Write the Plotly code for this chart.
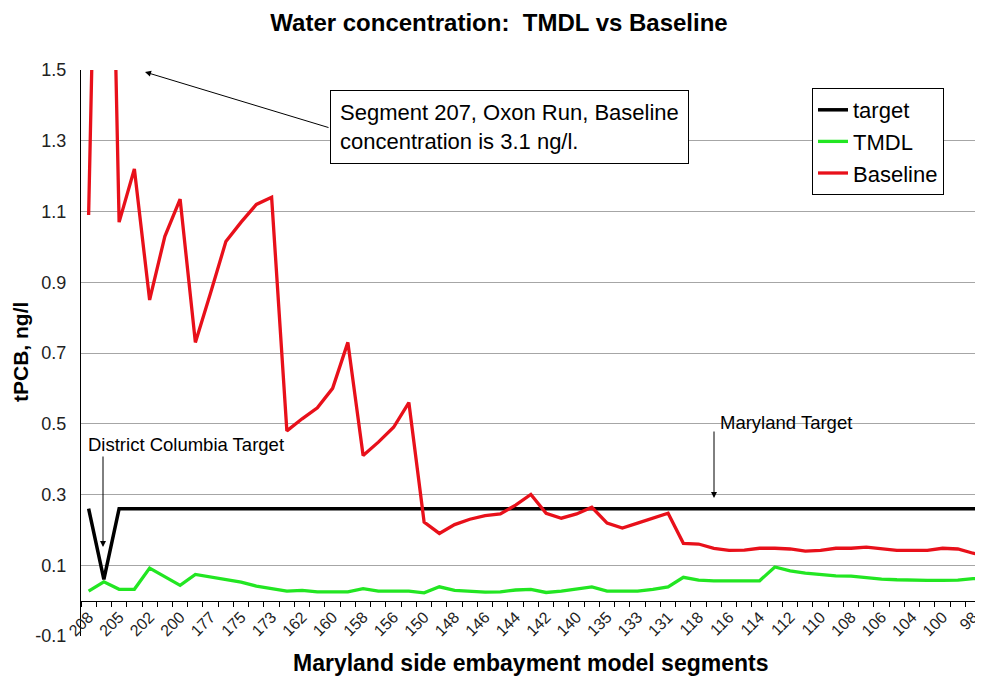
import plotly.graph_objects as go

# segment names (only every other one is labelled on the axis)
segments = ['208', '207', '205', '204', '202', '201', '200', '178', '177', '176',
            '175', '174', '173', '163', '162', '161', '160', '159', '158', '157',
            '156', '151', '150', '149', '148', '147', '146', '145', '144', '143',
            '142', '141', '140', '136', '135', '134', '133', '132', '131', '119',
            '118', '117', '116', '115', '114', '113', '112', '111', '110', '109',
            '108', '107', '106', '105', '104', '102', '100', '99', '98', '97']

target = [0.26, 0.06] + [0.26] * 58

tmdl = [0.027, 0.053, 0.032, 0.032, 0.092, 0.067, 0.043, 0.074, 0.067, 0.060,
        0.052, 0.041, 0.034, 0.027, 0.029, 0.025, 0.025, 0.025, 0.034, 0.027,
        0.027, 0.027, 0.022, 0.039, 0.029, 0.027, 0.024, 0.025, 0.030, 0.032,
        0.023, 0.027, 0.032, 0.039, 0.027, 0.027, 0.027, 0.032, 0.039, 0.066,
        0.058, 0.056, 0.056, 0.056, 0.056, 0.095, 0.084, 0.078, 0.074, 0.070,
        0.069, 0.064, 0.061, 0.059, 0.057, 0.057, 0.057, 0.058, 0.062, 0.065]

baseline = [1.09, 3.1, 1.07, 1.22, 0.85, 1.03, 1.135, 0.73, 0.87, 1.015,
            1.07, 1.12, 1.14, 0.48, 0.514, 0.545, 0.60, 0.73, 0.41, 0.448,
            0.49, 0.56, 0.222, 0.19, 0.215, 0.23, 0.24, 0.245, 0.27, 0.30,
            0.247, 0.233, 0.245, 0.264, 0.219, 0.205, 0.219, 0.233, 0.247, 0.162,
            0.160, 0.148, 0.142, 0.143, 0.148, 0.148, 0.146, 0.140, 0.142, 0.148,
            0.148, 0.151, 0.146, 0.142, 0.142, 0.142, 0.148, 0.146, 0.134, 0.125]

y_ticks = [-0.1, 0.1, 0.3, 0.5, 0.7, 0.9, 1.1, 1.3, 1.5]
y_ticktext = ['-0.1', '0.1', '0.3', '0.5', '0.7', '0.9', '1.1', '1.3', '1.5']

x_ticktext = [s if i % 2 == 0 else '' for i, s in enumerate(segments)]

# the page body adds an 8px margin, so the figure is made 8px smaller
OFF = 8
W, H = 983 - OFF, 679 - OFF
L, R, T, B = 81 - OFF, 0, 70 - OFF, 679 - 636
font = 'Arial, Liberation Sans, sans-serif'


def px(x, y):
  # page pixel (as in the screenshot) -> paper fraction
  x, y = x - OFF, y - OFF
  return (x - L) / (W - L - R), (H - B - y) / (H - T - B)


fig = go.Figure()
fig.add_trace(go.Scatter(x=segments, y=target, name='target', mode='lines',
                         line=dict(color='black', width=3.5)))
fig.add_trace(go.Scatter(x=segments, y=tmdl, name='TMDL', mode='lines',
                         line=dict(color='#22e622', width=3.3)))
fig.add_trace(go.Scatter(x=segments, y=baseline, name='Baseline', mode='lines',
                         line=dict(color='#e8101a', width=3.3)))

annotations = []
# axis titles
ax_x, ax_y = px(531, 663)
annotations.append(dict(text='<b>Maryland side embayment model segments</b>',
                        xref='paper', yref='paper', x=ax_x, y=ax_y,
                        xanchor='center', yanchor='middle',
                        showarrow=False, font=dict(size=23, color='black')))
ay_x, ay_y = px(20, 352)
annotations.append(dict(text='<b>tPCB, ng/l</b>', textangle=-90,
                        xref='paper', yref='paper', x=ay_x, y=ay_y,
                        xanchor='center', yanchor='middle',
                        showarrow=False, font=dict(size=21, color='black')))

# text box
bx, by = px(330, 90)
annotations.append(dict(text='Segment 207, Oxon Run, Baseline<br>concentration is 3.1 ng/l.',
                        xref='paper', yref='paper', x=bx, y=by,
                        xanchor='left', yanchor='top', align='left',
                        showarrow=False, bordercolor='black', borderwidth=1,
                        borderpad=9, bgcolor='white',
                        font=dict(size=22, color='black')))
# arrow from box to top of chart
hx, hy = px(145, 72)
annotations.append(dict(text='', xref='paper', yref='paper', x=hx, y=hy,
                        ax=185, ay=56, showarrow=True, arrowhead=2,
                        arrowsize=1.2, arrowwidth=1, arrowcolor='black'))

# District Columbia Target
tx, ty = px(86, 444)
annotations.append(dict(text='District Columbia Target', xref='paper', yref='paper',
                        x=tx, y=ty, xanchor='left', yanchor='middle',
                        showarrow=False, font=dict(size=18.5, color='black')))
hx, hy = px(103, 547)
annotations.append(dict(text='', xref='paper', yref='paper', x=hx, y=hy,
                        ax=0, ay=-92, showarrow=True, arrowhead=2,
                        arrowsize=1.2, arrowwidth=1, arrowcolor='black'))

# Maryland Target
tx, ty = px(718, 422)
annotations.append(dict(text='Maryland Target', xref='paper', yref='paper',
                        x=tx, y=ty, xanchor='left', yanchor='middle',
                        showarrow=False, font=dict(size=18.5, color='black')))
hx, hy = px(714, 498)
annotations.append(dict(text='', xref='paper', yref='paper', x=hx, y=hy,
                        ax=0, ay=-68, showarrow=True, arrowhead=2,
                        arrowsize=1.2, arrowwidth=1, arrowcolor='black'))

lx, ly = px(812, 88)

fig.update_layout(
  width=W, height=H,
  margin=dict(l=L, r=R, t=T, b=B),
  paper_bgcolor='white', plot_bgcolor='white',
  font=dict(family=font, color='black'),
  title=dict(text='<b>Water concentration:&nbsp; TMDL vs Baseline</b>',
             x=(499 - OFF) / W, xanchor='center',
             y=1 - (23 - OFF) / H, yanchor='middle',
             font=dict(size=24, color='black')),
  xaxis=dict(type='category', range=[-0.5, 58.65], automargin=False,
             tickmode='array', tickvals=segments, ticktext=x_ticktext,
             tickangle=-45, tickson='boundaries', ticks='outside',
             ticklen=5, tickcolor='black', showline=True, linecolor='black',
             linewidth=1, showgrid=False, anchor='free',
             position=0.1 / 1.6, tickfont=dict(size=16, color='#222')),
  yaxis=dict(range=[-0.1, 1.5], tickmode='array', tickvals=y_ticks,
             ticktext=y_ticktext, showgrid=True, gridcolor='#a6a6a6',
             gridwidth=1, zeroline=False, showline=True, linecolor='black',
             linewidth=1, ticks='', automargin=False, ticklabelstandoff=10,
             tickfont=dict(size=18, color='#222')),
  legend=dict(x=lx, y=ly, xanchor='left', yanchor='top',
              bgcolor='white', bordercolor='black', borderwidth=1,
              font=dict(size=22, color='black'), tracegroupgap=0),
  annotations=annotations,
)

fig.write_html('out.html')
